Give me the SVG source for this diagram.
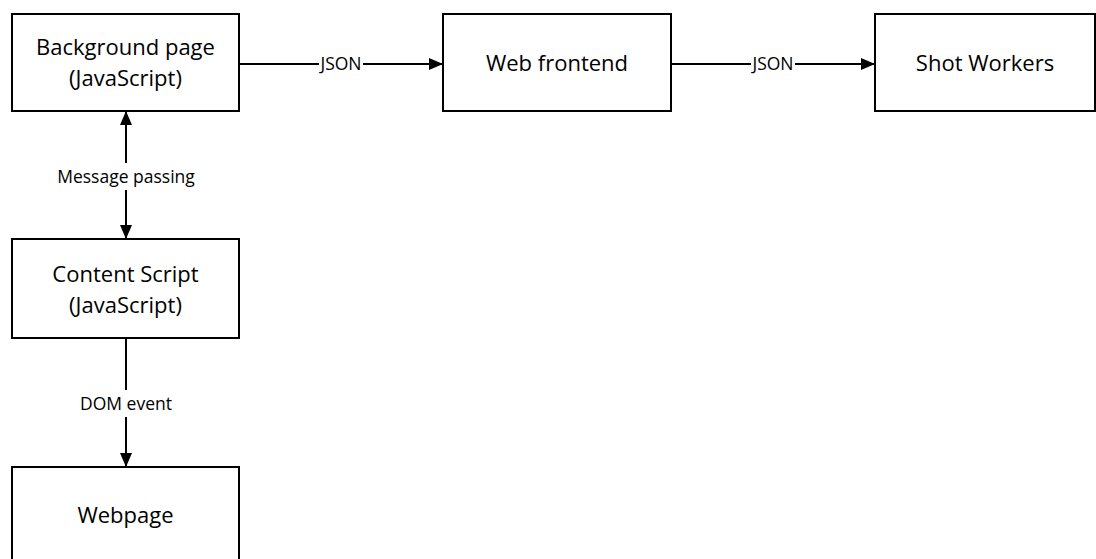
<svg xmlns="http://www.w3.org/2000/svg" width="1096" height="559" viewBox="0 0 1096 559">
<style>
.box{fill:#fff;stroke:#000;stroke-width:2}
.t{font-family:"Open Sans","Noto Sans",sans-serif;font-size:22px;fill:#000;text-anchor:middle}
.l{font-family:"Open Sans","Noto Sans",sans-serif;font-size:17.5px;fill:#000;text-anchor:middle}
.c{stroke:#000;stroke-width:2;fill:none}
.lb{fill:#fff}
</style>
<defs>
<marker id="ah" viewBox="0 0 14 12" refX="14" refY="6" markerWidth="14" markerHeight="12" markerUnits="userSpaceOnUse" orient="auto-start-reverse">
<path d="M0,0 L14,6 L0,12 Z" fill="#000"/>
</marker>
</defs>
<rect width="1096" height="559" fill="#fff"/>
<g id="connectors">
<line class="c" x1="239" y1="64" x2="443" y2="64" marker-end="url(#ah)"/>
<rect class="lb" x="319" y="54" width="44" height="20"/>
<text class="l" x="341" y="70">JSON</text>
<line class="c" x1="671" y1="64" x2="875" y2="64" marker-end="url(#ah)"/>
<rect class="lb" x="751" y="54" width="44" height="20"/>
<text class="l" x="773" y="70">JSON</text>
<line class="c" x1="126" y1="111" x2="126" y2="239" marker-start="url(#ah)" marker-end="url(#ah)"/>
<rect class="lb" x="50" y="163" width="152" height="27"/>
<text class="l" x="126" y="183">Message passing</text>
<line class="c" x1="126" y1="338" x2="126" y2="467" marker-end="url(#ah)"/>
<rect class="lb" x="74" y="390" width="104" height="27"/>
<text class="l" x="126" y="410">DOM event</text>
</g>
<g id="background-page">
<rect class="box" x="12" y="14" width="227" height="97"/>
<text class="t" x="125.5" y="55">Background page</text>
<text class="t" x="125.5" y="86">(JavaScript)</text>
</g>
<g id="web-frontend">
<rect class="box" x="443" y="14" width="228" height="97"/>
<text class="t" x="557" y="71">Web frontend</text>
</g>
<g id="shot-workers">
<rect class="box" x="875" y="14" width="220" height="97"/>
<text class="t" x="985" y="71">Shot Workers</text>
</g>
<g id="content-script">
<rect class="box" x="12" y="239" width="227" height="99"/>
<text class="t" x="125.5" y="282">Content Script</text>
<text class="t" x="125.5" y="313">(JavaScript)</text>
</g>
<g id="webpage">
<rect class="box" x="12" y="467" width="227" height="100"/>
<text class="t" x="125.5" y="523">Webpage</text>
</g>
</svg>
